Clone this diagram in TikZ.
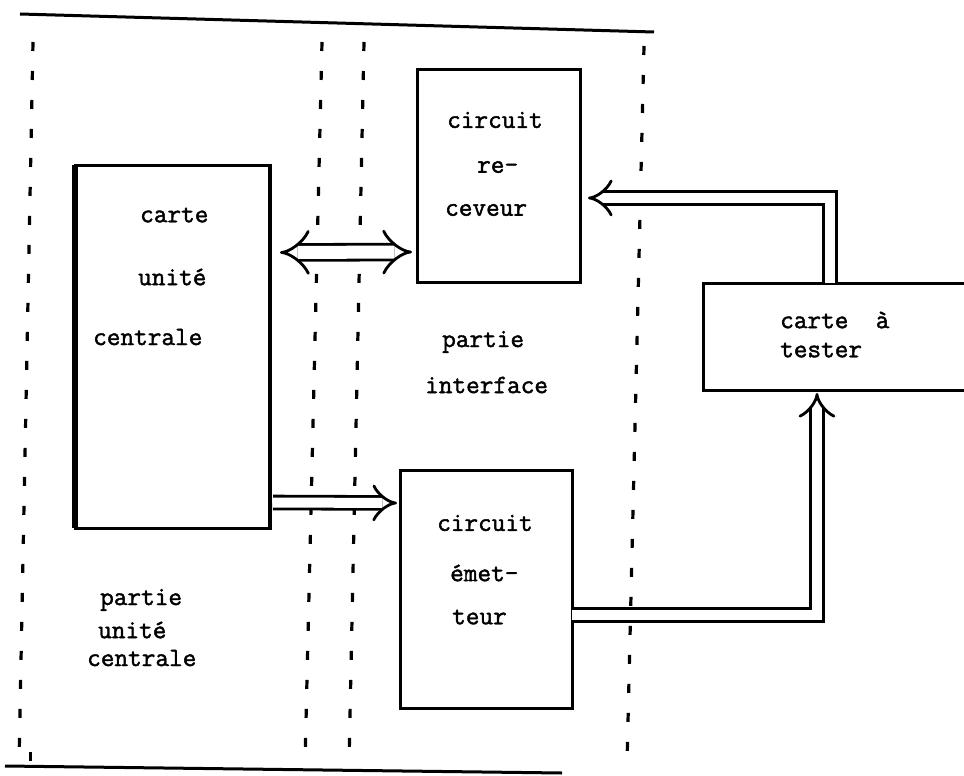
\documentclass[tikz,border=0pt]{standalone}
\usepackage{fontspec}
\newfontfamily\typewr[FakeBold=1.6]{Latin Modern Mono}
\usetikzlibrary{arrows.meta,calc}
\begin{document}
\begin{tikzpicture}[x=1pt,y=-1pt,
  box/.style={draw,line width=3pt,rectangle,inner sep=0pt,outer sep=0pt},
  lbl/.style={font=\fontsize{26.5}{30}\selectfont\typewr,inner sep=0pt,anchor=west},
  dbl/.style={line width=2.8pt,double,double distance=10pt,-{Implies}},
  dblw/.style={line width=2.8pt,double,double distance=13pt,{Implies}-{Implies}},
  sepline/.style={line width=3.2pt,dash pattern=on 9pt off 20pt},
  rule/.style={line width=3pt}]
\useasboundingbox (0,0) rectangle (964,776);
\clip (0,0) rectangle (964,776);
% frame rules
\coordinate (t1) at (20,14); \coordinate (t2) at (654,32);
\coordinate (b1) at (5,766); \coordinate (b2) at (562,773);
\draw[rule] (t1) -- (t2);
\draw[rule] (b1) -- (b2);
% dotted separators
\coordinate (s1a) at (33,42);  \coordinate (s1b) at (19,764);
\coordinate (s2a) at (322,42); \coordinate (s2b) at (305,764);
\coordinate (s3a) at (364,42); \coordinate (s3b) at (349,764);
\coordinate (s4a) at (644,46); \coordinate (s4b) at (627,764);
\draw[sepline] (s1a) -- (s1b);
\draw[sepline] (s2a) -- (s2b);
\draw[sepline] (s3a) -- (s3b);
\draw[sepline] (s4a) -- (s4b);
\coordinate (s5a) at (30,752); \coordinate (s5b) at (30,761);
\draw[line width=3pt] (s5a) -- (s5b);
% boxes
\node[box,minimum width=195pt,minimum height=363pt] (uc) at (172.5,346.5) {};
\draw[line width=5.5pt] (uc.north west) -- (uc.south west);
\draw[line width=4.5pt] (uc.north east) -- (uc.south east);
\node[box,minimum width=163pt,minimum height=212pt] (rc) at (498.5,176) {};
\node[box,minimum width=172pt,minimum height=238pt] (em) at (486,589) {};
\node[box,minimum width=272pt,minimum height=107pt] (ct) at (839,336.5) {};
% texts
\node[lbl] (t_uc1) at (140,215) {carte};
\node[lbl] (t_uc2) at (138,277) {unité};
\node[lbl] (t_uc3) at (93,337) {centrale};
\node[lbl] (t_rc1) at (447,120) {circuit};
\node[lbl] (t_rc2) at (477,167) {re-};
\node[lbl] (t_rc3) at (445,210) {ceveur};
\node[lbl] (t_pi1) at (442,342) {partie};
\node[lbl] (t_pi2) at (425,385) {interface};
\node[lbl] (t_em1) at (437,523) {circuit};
\node[lbl] (t_em2) at (450,573) {émet-};
\node[lbl] (t_em3) at (452,617) {teur};
\node[lbl] (t_ct1) at (780,320) {carte~~à};
\node[lbl] (t_ct2) at (780,350) {tester};
\node[lbl] (t_pu1) at (100,600) {partie};
\node[lbl] (t_pu2) at (98,630) {unité};
\node[lbl] (t_pu3) at (87,658) {centrale};
% connectors
\draw[dblw] ($(uc.east)+(10,-94)$) -- ($(rc.west)+(-5,76)$);
\draw[dbl] ($(uc.east)+(3,156)$) -- ($(em.west)+(-3,-86)$);
\draw[dbl] ($(ct.north)+(-9,0)$) |- ($(rc.east)+(8,22)$);
\draw[dbl] ($(em.east)+(0,26)$) -| ($(ct.south)+(-22,3)$);
\end{tikzpicture}
\end{document}
